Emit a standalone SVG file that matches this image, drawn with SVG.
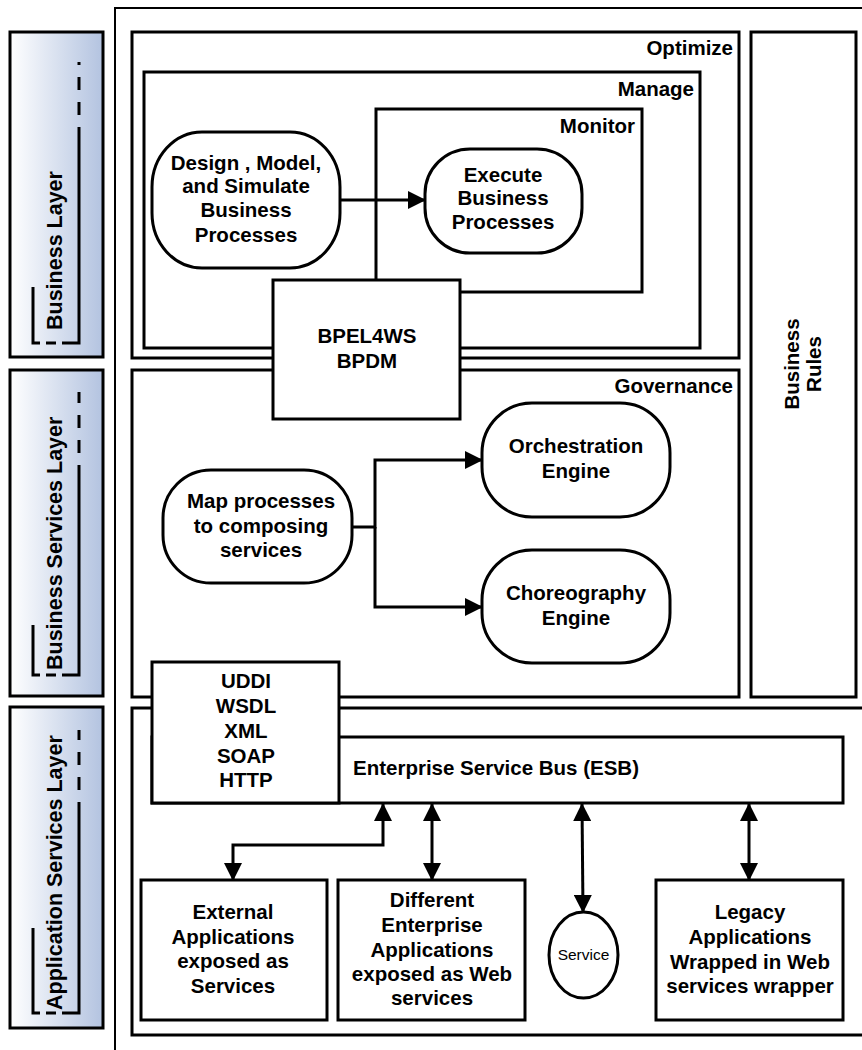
<svg xmlns="http://www.w3.org/2000/svg" width="862" height="1050" viewBox="0 0 862 1050">
<defs>
<linearGradient id="layerGrad" x1="0" y1="0" x2="1" y2="0">
<stop offset="0" stop-color="#ffffff"/>
<stop offset="1" stop-color="#b3c3e0"/>
</linearGradient>
<marker id="arr" viewBox="0 0 18 18" refX="17" refY="9" markerWidth="18" markerHeight="18" markerUnits="userSpaceOnUse" orient="auto-start-reverse">
<path d="M0,0 L18,9 L0,18 z" fill="#000"/>
</marker>
<style>
.box{fill:#fff;stroke:#000;stroke-width:3}
.layer{fill:url(#layerGrad);stroke:#000;stroke-width:3}
.br{fill:none;stroke:#000;stroke-width:3}
.t{font-family:"Liberation Sans",Arial,sans-serif;font-weight:bold;font-size:20.5px;fill:#000}
.lt{font-family:"Liberation Sans",Arial,sans-serif;font-weight:bold;font-size:21.5px;fill:#000}
.c{text-anchor:middle}
.e{text-anchor:end}
.conn{fill:none;stroke:#000;stroke-width:3}
.sv{font-family:"Liberation Sans",Arial,sans-serif;font-size:15.5px;fill:#000;text-anchor:middle}
</style>
</defs>
<rect width="862" height="1050" fill="#fff"/>
<rect x="115" y="8" width="770" height="1070" fill="none" stroke="#000" stroke-width="2"/>

<g id="layer-business">
<rect class="layer" x="10" y="32" width="93" height="325"/>
<path class="br" d="M33,287 V343 H40"/>
<path class="br" d="M46,343 H56 M62,343 H79 V140"/>
<path class="br" d="M79,140 V62" stroke-dasharray="13 12"/>
<text class="lt" transform="translate(62,330) rotate(-90)">Business Layer</text>
</g>

<g id="layer-business-services">
<rect class="layer" x="10" y="370" width="93" height="326"/>
<path class="br" d="M33,625 V675 H40"/>
<path class="br" d="M46,675 H56 M62,675 H79 V478"/>
<path class="br" d="M79,478 V392" stroke-dasharray="13 12"/>
<text class="lt" transform="translate(62,670) rotate(-90)">Business Services Layer</text>
</g>

<g id="layer-application-services">
<rect class="layer" x="10" y="707" width="93" height="321"/>
<path class="br" d="M33,928 V1013 H40"/>
<path class="br" d="M46,1013 H56 M62,1013 H79 V815"/>
<path class="br" d="M79,815 V730" stroke-dasharray="13 12"/>
<text class="lt" transform="translate(62,1010) rotate(-90)">Application Services Layer</text>
</g>

<g id="optimize">
<rect class="box" x="132" y="32" width="607" height="326"/>
<text class="t e" x="733" y="55">Optimize</text>
</g>
<g id="manage">
<rect class="box" x="144" y="72" width="556" height="276"/>
<text class="t e" x="694" y="96">Manage</text>
</g>
<g id="monitor">
<rect class="box" x="376" y="109" width="266" height="183"/>
<text class="t e" x="635" y="133">Monitor</text>
</g>

<g id="governance">
<rect class="box" x="132" y="370" width="607" height="327"/>
<text class="t e" x="733" y="393">Governance</text>
</g>

<g id="business-rules">
<rect class="box" x="751" y="32" width="105" height="665"/>
<text class="t c" transform="translate(799,364) rotate(-90)">Business</text>
<text class="t c" transform="translate(821,364) rotate(-90)">Rules</text>
</g>

<g id="application-services">
<rect class="box" x="132" y="708" width="740" height="327"/>
</g>

<g id="design">
<rect class="box" x="152" y="132" width="188" height="136" rx="50" ry="55"/>
<text class="t c" x="246"><tspan x="246" y="170">Design , Model,</tspan><tspan x="246" y="193">and Simulate</tspan><tspan x="246" y="217">Business</tspan><tspan x="246" y="242">Processes</tspan></text>
</g>

<g id="execute">
<rect class="box" x="425" y="149" width="157" height="104" rx="45" ry="45"/>
<text class="t c"><tspan x="503" y="182">Execute</tspan><tspan x="503" y="205">Business</tspan><tspan x="503" y="229">Processes</tspan></text>
</g>

<g id="map">
<rect class="box" x="163" y="470" width="189" height="113" rx="48" ry="48"/>
<text class="t c"><tspan x="261" y="508">Map processes</tspan><tspan x="261" y="533">to composing</tspan><tspan x="261" y="557">services</tspan></text>
</g>

<g id="orchestration">
<rect class="box" x="482" y="403" width="188" height="114" rx="50" ry="50"/>
<text class="t c"><tspan x="576" y="453">Orchestration</tspan><tspan x="576" y="478">Engine</tspan></text>
</g>

<g id="choreography">
<rect class="box" x="482" y="550" width="188" height="113" rx="50" ry="50"/>
<text class="t c"><tspan x="576" y="600">Choreography</tspan><tspan x="576" y="625">Engine</tspan></text>
</g>

<g id="esb">
<rect class="box" x="152" y="737" width="691" height="66"/>
<text class="t" x="353" y="775">Enterprise Service Bus (ESB)</text>
</g>

<g id="external">
<rect class="box" x="141" y="880" width="186" height="140"/>
<text class="t c"><tspan x="233" y="919">External</tspan><tspan x="233" y="944">Applications</tspan><tspan x="233" y="968">exposed as</tspan><tspan x="233" y="993">Services</tspan></text>
</g>

<g id="different">
<rect class="box" x="338" y="880" width="187" height="140"/>
<text class="t c"><tspan x="432" y="907">Different</tspan><tspan x="432" y="932">Enterprise</tspan><tspan x="432" y="957">Applications</tspan><tspan x="432" y="981">exposed as Web</tspan><tspan x="432" y="1005">services</tspan></text>
</g>

<g id="service">
<ellipse class="box" cx="583.5" cy="955" rx="34.5" ry="43"/>
<text class="sv" x="583.5" y="960">Service</text>
</g>

<g id="legacy">
<rect class="box" x="656" y="880" width="187" height="140"/>
<text class="t c"><tspan x="750" y="919">Legacy</tspan><tspan x="750" y="944">Applications</tspan><tspan x="750" y="969">Wrapped in Web</tspan><tspan x="750" y="993">services wrapper</tspan></text>
</g>

<g id="connectors">
<path class="conn" d="M340,200 H425" marker-end="url(#arr)"/>
<path class="conn" d="M352,527 H375 V460 H482" marker-end="url(#arr)"/>
<path class="conn" d="M375,527 V607 H482" marker-end="url(#arr)"/>
<path class="conn" d="M383,804 V845 H233 V880" marker-start="url(#arr)" marker-end="url(#arr)"/>
<path class="conn" d="M432,804 V880" marker-start="url(#arr)" marker-end="url(#arr)"/>
<path class="conn" d="M582,804 L583,912" marker-start="url(#arr)" marker-end="url(#arr)"/>
<path class="conn" d="M749,804 V880" marker-start="url(#arr)" marker-end="url(#arr)"/>
</g>

<g id="bpel">
<rect class="box" x="273" y="280" width="187" height="139"/>
<text class="t c"><tspan x="367" y="343">BPEL4WS</tspan><tspan x="367" y="368">BPDM</tspan></text>
</g>

<g id="uddi">
<rect class="box" x="152" y="662" width="187" height="141"/>
<text class="t c"><tspan x="246" y="688">UDDI</tspan><tspan x="246" y="713">WSDL</tspan><tspan x="246" y="738">XML</tspan><tspan x="246" y="763">SOAP</tspan><tspan x="246" y="787">HTTP</tspan></text>
</g>
</svg>
